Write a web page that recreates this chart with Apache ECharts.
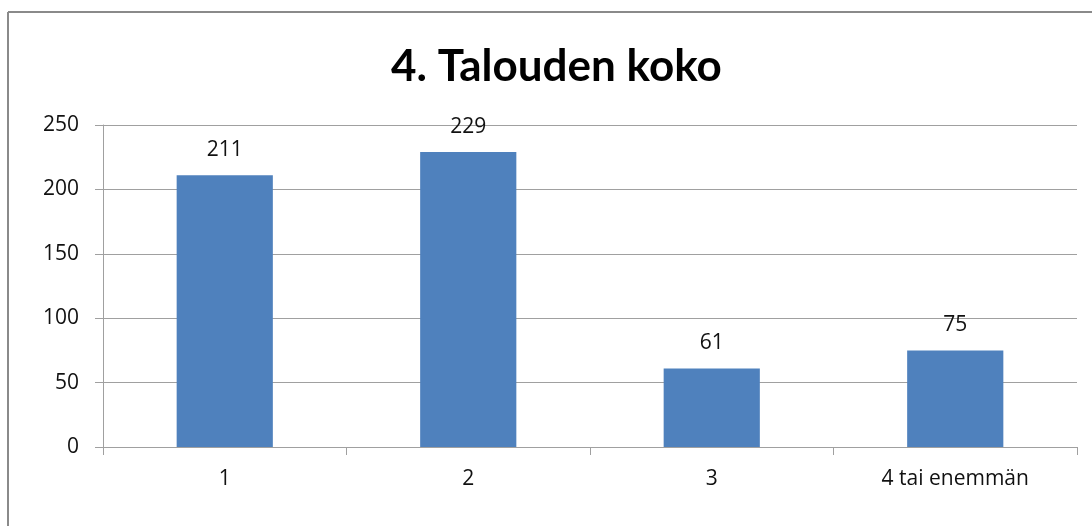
<!DOCTYPE html>
<html>
<head>
<meta charset="utf-8">
<script src="https://cdn.jsdelivr.net/npm/echarts@6/dist/echarts.min.js"></script>
<style>
  html, body { margin: 0; padding: 0; background: #fff; }
  #chart { width: 1092px; height: 526px; }
</style>
</head>
<body>
<div id="chart"></div>
<script>
// talouden koko -> vastaajien määrä
const categories = ['1', '2', '3', '4 tai enemmän']
const counts = [211, 229, 61, 75]
const yTicks = [0, 50, 100, 150, 200, 250]

const chart = echarts.init(document.getElementById('chart'))

const TITLE_FONT = 'Lato, "Open Sans", sans-serif'
const FONT = '"Open Sans", Lato, sans-serif'

chart.setOption({
  animation: false,
  backgroundColor: '#fff',
  title: {
    text: '4. Talouden koko',
    left: 386,
    top: 40,
    textStyle: { fontFamily: TITLE_FONT, fontSize: 44, fontWeight: 'bold', color: '#000' }
  },
  graphic: [
    // kehys (vain ylä- ja vasen reuna näkyvissä)
    { type: 'line', shape: { x1: 8, y1: 12, x2: 1092, y2: 12 }, style: { stroke: '#8a8a8a', lineWidth: 2 } },
    { type: 'line', shape: { x1: 8, y1: 12, x2: 8, y2: 526 }, style: { stroke: '#8a8a8a', lineWidth: 2 } }
  ],
  grid: { left: 103, right: 15, top: 125, bottom: 79 },
  xAxis: {
    type: 'category',
    data: categories,
    axisLine: { lineStyle: { color: '#a0a0a0', width: 1 } },
    axisTick: { show: true, length: 8, lineStyle: { color: '#a0a0a0' } },
    axisLabel: { fontFamily: FONT, fontSize: 21, color: '#111', margin: 22 }
  },
  yAxis: {
    type: 'value',
    min: yTicks[0],
    max: yTicks[yTicks.length - 1],
    interval: 50,
    axisLine: { show: true, lineStyle: { color: '#a0a0a0', width: 1 } },
    axisTick: { show: true, length: 8, lineStyle: { color: '#a0a0a0' } },
    axisLabel: { fontFamily: FONT, fontSize: 21, color: '#111', margin: 24 },
    splitLine: { lineStyle: { color: '#a0a0a0', width: 1 } }
  },
  series: [
    {
      type: 'bar',
      data: counts,
      barWidth: '39.5%',
      itemStyle: { color: '#4f81bd' },
      label: {
        show: true,
        position: 'top',
        distance: 15,
        fontFamily: FONT,
        fontSize: 21,
        color: '#111'
      }
    }
  ]
})
</script>
</body>
</html>
